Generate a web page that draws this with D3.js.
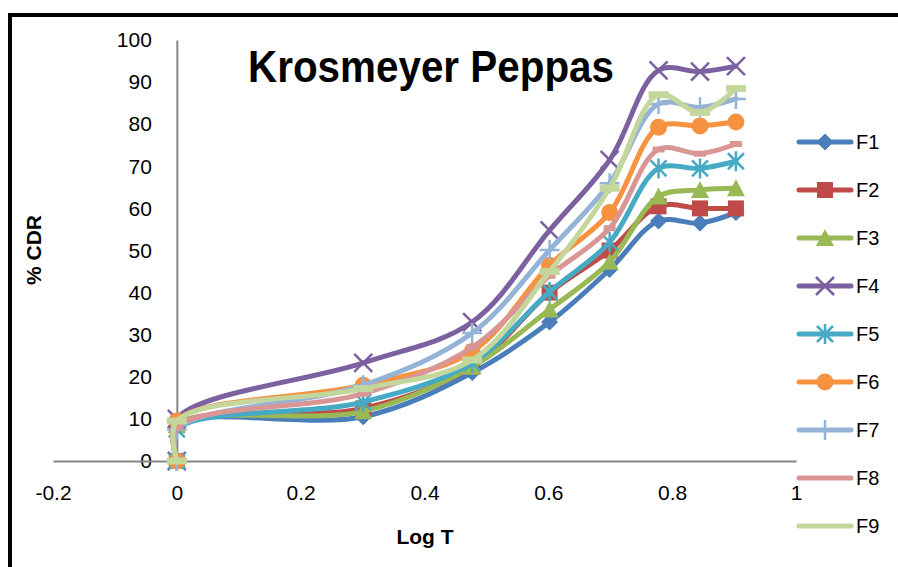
<!DOCTYPE html>
<html><head><meta charset="utf-8">
<script src="https://cdn.jsdelivr.net/npm/d3@7"></script>
<style>body{margin:0;background:#fff;}svg{display:block;}</style>
</head><body>
<script>
// ---- data ----
const logT = [0, 0, 0.301, 0.477, 0.602, 0.699, 0.778, 0.845, 0.903];
const seriesNames = ["F1","F2","F3","F4","F5","F6","F7","F8","F9"];
const F1 = [0, 8.5, 10.5, 21.0, 33.0, 45.5, 57.0, 56.5, 59.0];
const F2 = [0, 8.5, 12.5, 22.5, 40.0, 50.0, 60.5, 60.0, 60.0];
const F3 = [0, 8.5, 11.8, 22.4, 36.0, 47.3, 62.8, 64.4, 64.8];
const F4 = [0, 10.0, 23.3, 33.0, 54.8, 71.5, 92.8, 92.5, 93.8];
const F5 = [0, 7.5, 14.0, 23.3, 40.2, 52.0, 69.5, 69.5, 71.2];
const F6 = [0, 9.5, 18.0, 26.0, 46.5, 59.0, 79.3, 79.6, 80.5];
const F7 = [0, 7.5, 18.0, 30.4, 50.1, 66.0, 84.8, 84.0, 86.0];
const F8 = [0, 8.0, 16.0, 27.0, 44.0, 55.3, 74.0, 73.0, 75.3];
const F9 = [0, 9.5, 17.2, 24.0, 45.0, 64.8, 87.0, 82.8, 88.5];
const seriesValues = [F1,F2,F3,F4,F5,F6,F7,F8,F9];
const xTicks = [-0.2, 0, 0.2, 0.4, 0.6, 0.8, 1];
const xTickLabels = ["-0.2", "0", "0.2", "0.4", "0.6", "0.8", "1"];
const yTicks = [0,10,20,30,40,50,60,70,80,90,100];
const colors = ["#4A7EBB","#BE4B48","#98B954","#7D60A0","#46AAC5","#F69240","#95B3D7","#D99694","#C3D69B"];
const markers = ["diamond","square","triangle","x","star","circle","plus","shortdash","longdash"];

const W = 898, H = 567;
const svg = d3.select("body").append("svg").attr("width", W).attr("height", H);
const FONT = "'Liberation Sans', Arial, sans-serif";

// frame
svg.append("line").attr("x1",10).attr("y1",13).attr("x2",10).attr("y2",H).attr("stroke","#000").attr("stroke-width",4);
svg.append("line").attr("x1",8).attr("y1",15).attr("x2",W).attr("y2",15).attr("stroke","#000").attr("stroke-width",4);

const x = d3.scaleLinear().domain([-0.2, 1]).range([53, 796]);
const y = d3.scaleLinear().domain([0, 100]).range([461, 40]);

// axes
const yAxis = d3.axisLeft(y).tickValues(yTicks).tickSize(0).tickPadding(25).tickFormat(d3.format("d"));
const gy = svg.append("g").attr("transform", `translate(${x(0)},0)`).call(yAxis);
gy.select(".domain").attr("stroke","#868686").attr("stroke-width",2);
gy.selectAll("text").attr("font-family",FONT).attr("font-size",21).attr("fill","#000");

const xAxis = d3.axisBottom(x).tickValues(xTicks).tickSize(0).tickPadding(24).tickFormat((d, i) => xTickLabels[i]);
const gx = svg.append("g").attr("transform", `translate(0,${y(0)})`).call(xAxis);
gx.select(".domain").attr("stroke","#868686").attr("stroke-width",2);
gx.selectAll("text").attr("font-family",FONT).attr("font-size",21).attr("fill","#000");

// titles
svg.append("text").attr("x",431).attr("y",82).attr("text-anchor","middle")
  .attr("font-family",FONT).attr("font-weight","bold").attr("font-size",45)
  .attr("textLength",366).attr("lengthAdjust","spacingAndGlyphs").text("Krosmeyer Peppas");
svg.append("text").attr("x",425).attr("y",544).attr("text-anchor","middle")
  .attr("font-family",FONT).attr("font-weight","bold").attr("font-size",21).text("Log T");
svg.append("text").attr("transform","translate(41,250) rotate(-90)").attr("text-anchor","middle")
  .attr("font-family",FONT).attr("font-weight","bold").attr("font-size",21).text("% CDR");

function drawMarker(g, type, cx, cy, color) {
  const s = 8;
  switch (type) {
    case "diamond":
      g.append("path").attr("d",`M${cx},${cy-s}L${cx+s},${cy}L${cx},${cy+s}L${cx-s},${cy}Z`).attr("fill",color).attr("stroke",color).attr("stroke-width",1); break;
    case "square":
      g.append("rect").attr("x",cx-8).attr("y",cy-8).attr("width",16).attr("height",16).attr("fill",color); break;
    case "triangle":
      g.append("path").attr("d",`M${cx},${cy-9}L${cx+9},${cy+8}L${cx-9},${cy+8}Z`).attr("fill",color); break;
    case "x":
      g.append("path").attr("d",`M${cx-9},${cy-9}L${cx+9},${cy+9}M${cx-9},${cy+9}L${cx+9},${cy-9}`).attr("stroke",color).attr("stroke-width",2.5).attr("fill","none"); break;
    case "star":
      g.append("path").attr("d",`M${cx-8},${cy-8}L${cx+8},${cy+8}M${cx-8},${cy+8}L${cx+8},${cy-8}M${cx},${cy-10}L${cx},${cy+10}`).attr("stroke",color).attr("stroke-width",2.5).attr("fill","none"); break;
    case "circle":
      g.append("circle").attr("cx",cx).attr("cy",cy).attr("r",8.5).attr("fill",color); break;
    case "plus":
      g.append("path").attr("d",`M${cx-10},${cy}L${cx+10},${cy}M${cx},${cy-10}L${cx},${cy+10}`).attr("stroke",color).attr("stroke-width",2.5).attr("fill","none"); break;
    case "shortdash":
      g.append("rect").attr("x",cx-6).attr("y",cy-3).attr("width",12).attr("height",6).attr("fill",color); break;
    case "longdash":
      g.append("rect").attr("x",cx-10).attr("y",cy-3.5).attr("width",20).attr("height",7).attr("fill",color); break;
  }
}

const line = d3.line().x(d => x(d[0])).y(d => y(d[1])).curve(d3.curveCatmullRom.alpha(0.5));
const plot = svg.append("g");
seriesValues.forEach((vals, i) => {
  const pts = vals.map((v, j) => [logT[j], v]);
  const g = plot.append("g");
  g.append("path").attr("d", line(pts)).attr("fill","none").attr("stroke",colors[i]).attr("stroke-width",5).attr("stroke-linecap","round").attr("stroke-linejoin","round");
  pts.forEach(p => drawMarker(g, markers[i], x(p[0]), y(p[1]), colors[i]));
});

// legend
const leg = svg.append("g");
seriesNames.forEach((name, i) => {
  const cy = 142 + i * 48;
  leg.append("line").attr("x1",799).attr("x2",851).attr("y1",cy).attr("y2",cy).attr("stroke",colors[i]).attr("stroke-width",5).attr("stroke-linecap","round");
  if (markers[i] !== "shortdash" && markers[i] !== "longdash") drawMarker(leg, markers[i], 825, cy, colors[i]);
  leg.append("text").attr("x",856).attr("y",cy+7).attr("font-family",FONT).attr("font-size",20).text(name);
});
</script>
</body></html>
